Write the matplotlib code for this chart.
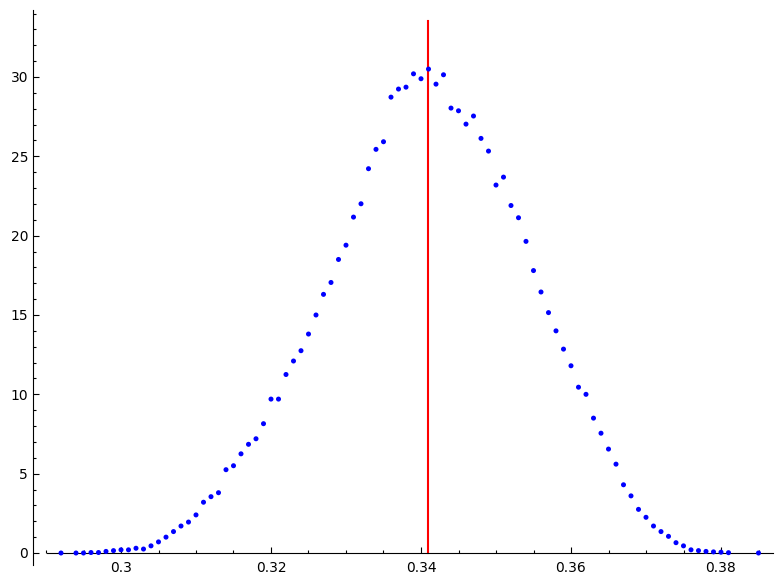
import numpy as np
import matplotlib
matplotlib.use('Agg')
import matplotlib.pyplot as plt
from matplotlib.ticker import MultipleLocator

# sample values
xs = [0.292, 0.294, 0.295, 0.296, 0.297, 0.298, 0.299, 0.300, 0.301, 0.302,
      0.303, 0.304, 0.305, 0.306, 0.307, 0.308, 0.309, 0.310, 0.311, 0.312,
      0.313, 0.314, 0.315, 0.316, 0.317, 0.318, 0.319, 0.320, 0.321, 0.322,
      0.323, 0.324, 0.325, 0.326, 0.327, 0.328, 0.329, 0.330, 0.331, 0.332,
      0.333, 0.334, 0.335, 0.336, 0.337, 0.338, 0.339, 0.340, 0.341, 0.342,
      0.343, 0.344, 0.345, 0.346, 0.347, 0.348, 0.349, 0.350, 0.351, 0.352,
      0.353, 0.354, 0.355, 0.356, 0.357, 0.358, 0.359, 0.360, 0.361, 0.362,
      0.363, 0.364, 0.365, 0.366, 0.367, 0.368, 0.369, 0.370, 0.371, 0.372,
      0.373, 0.374, 0.375, 0.376, 0.377, 0.378, 0.379, 0.380, 0.381, 0.385]
ys = [0.0, 0.0, 0.0, 0.03, 0.03, 0.1, 0.15, 0.2, 0.2, 0.3,
      0.25, 0.45, 0.7, 1.0, 1.35, 1.7, 1.95, 2.4, 3.2, 3.55,
      3.8, 5.25, 5.5, 6.25, 6.85, 7.2, 8.15, 9.7, 9.7, 11.25,
      12.1, 12.75, 13.8, 15.0, 16.3, 17.05, 18.5, 19.4, 21.17, 22.01,
      24.22, 25.44, 25.92, 28.73, 29.24, 29.36, 30.2, 29.89, 30.5, 29.55,
      30.14, 28.04, 27.87, 27.03, 27.54, 26.13, 25.33, 23.19, 23.69, 21.9,
      21.13, 19.64, 17.8, 16.45, 15.15, 14.0, 12.85, 11.8, 10.45, 10.0,
      8.5, 7.55, 6.55, 5.6, 4.3, 3.6, 2.75, 2.25, 1.7, 1.35,
      1.05, 0.65, 0.45, 0.2, 0.15, 0.1, 0.07, 0.05, 0.02, 0.0]
mean_x = 0.3409

fig = plt.figure(figsize=(7.83, 5.84), dpi=100)
ax = fig.add_axes([33/783, 19/584, 740/783, 555/584])

ax.scatter(xs, ys, s=13, color='blue', edgecolors='none', zorder=3)
ax.plot([mean_x, mean_x], [0, max(ys) * 1.1], color='red', linewidth=1.5, zorder=2)

ax.set_xlim(0.3 - 88/7500, 0.3 + 652/7500)
ax.set_ylim(-12/15.867, 543/15.867)

ax.spines['top'].set_visible(False)
ax.spines['right'].set_visible(False)
ax.spines['bottom'].set_position(('data', 0))
ax.spines['bottom'].set_bounds(0.3 - 74/7500, 0.3 + 652/7500)

ax.xaxis.set_major_locator(MultipleLocator(0.02))
ax.xaxis.set_minor_locator(MultipleLocator(0.005))
ax.yaxis.set_major_locator(MultipleLocator(5))
ax.yaxis.set_minor_locator(MultipleLocator(1))
ax.set_xticks([0.30, 0.32, 0.34, 0.36, 0.38])
ax.set_xticklabels(['0.3', '0.32', '0.34', '0.36', '0.38'])
ax.tick_params(which='major', direction='in', length=4.5, width=0.8, labelsize=10)
ax.tick_params(which='minor', direction='in', length=2.2, width=0.8)
ax.tick_params(axis='x', which='both', pad=6)

fig.savefig('out.png', dpi=100)
